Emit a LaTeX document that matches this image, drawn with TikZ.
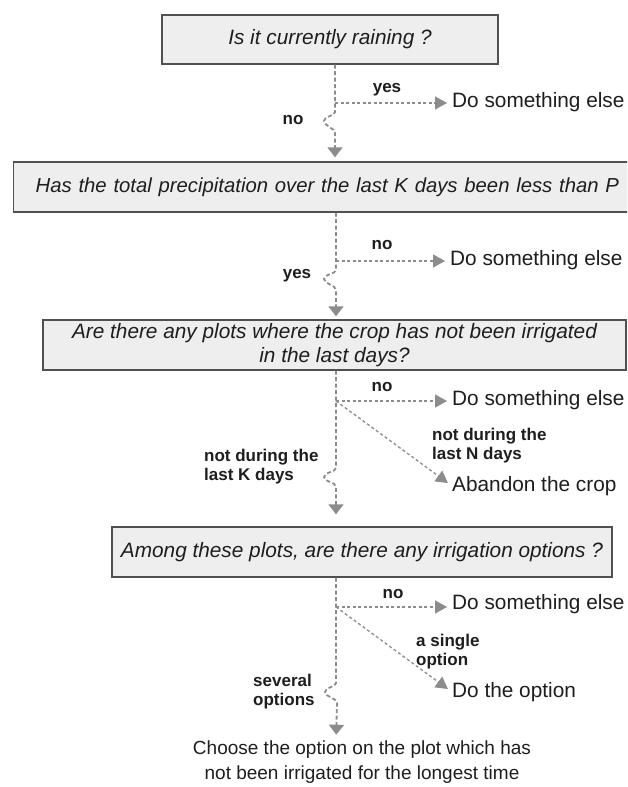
\documentclass[tikz,border=0pt]{standalone}
\usepackage{fontspec}
\setmainfont{Liberation Sans}
\usetikzlibrary{arrows.meta}
\definecolor{boxfill}{HTML}{EEEEEE}
\definecolor{boxline}{HTML}{505050}
\definecolor{connc}{HTML}{8C8C8C}
\definecolor{txt}{HTML}{1E1E1E}
\begin{document}
\begin{tikzpicture}[x=1pt,y=-1pt,
 qbox/.style={draw=boxline, fill=boxfill, line width=1.4pt, inner sep=0pt, text=txt,
   font=\fontsize{20.8}{24}\selectfont\itshape, align=center},
 act/.style={inner sep=0pt, text=txt, font=\fontsize{20.8}{24}\selectfont, anchor=west},
 lab/.style={inner sep=0pt, text=txt, font=\fontsize{17}{19}\selectfont\bfseries, align=left},
 vconn/.style={draw=connc, line width=1.8pt, dash pattern=on 4pt off 2.5pt,
   -{Triangle[length=10pt,width=15pt,fill=connc]}},
 hconn/.style={draw=connc, line width=1.3pt, dash pattern=on 3pt off 2.5pt,
   -{Triangle[length=12pt,width=13pt,fill=connc]}, shorten >=5pt},
]
\useasboundingbox (0,0) rectangle (627,787);
\fill[white] (0,0) rectangle (627,787);
\clip (0,0) rectangle (627,787);

% question boxes
\node[qbox, minimum width=336pt, minimum height=49pt] (b1) at (330,39.5) {Is it currently raining ?};
\node[qbox, anchor=west, minimum height=50pt, text width=640pt, align=left, inner xsep=22pt,
  font=\fontsize{20.3}{24}\selectfont\itshape] (b2) at (13,187)
  {Has the total precipitation over the last K days been less than P};
\node[qbox, minimum width=583pt, minimum height=50pt] (b3) at (334.5,345)
  {Are there any plots where the crop has not been irrigated\\in the last days?};
\node[qbox, minimum width=500pt, minimum height=50pt] (b4) at (362,552)
  {Among these plots, are there any irrigation options ?};
\node[inner sep=0pt, text=txt, font=\fontsize{19}{24.5}\selectfont, align=center] (fin) at (362,762)
  {Choose the option on the plot which has\\not been irrigated for the longest time};

% branch points
\coordinate (br1) at (335,103);
\coordinate (br2) at (336,261);
\coordinate (br3) at (336,401);
\coordinate (br4) at (336,607);

% outcomes
\node[act] (d1) at (452,102) {Do something else};
\node[act] (d2) at (450,260) {Do something else};
\node[act] (d3) at (452,400) {Do something else};
\node[act] (d4) at (452,604) {Do something else};
\node[act] (ab) at (452,486) {Abandon the crop};
\node[act] (dopt) at (452,692) {Do the option};

% labels
\node[lab] (l1y) at (387,90) {yes};
\node[lab] (l1n) at (293,120) {no};
\node[lab] (l2n) at (382,245) {no};
\node[lab] (l2y) at (297,276) {yes};
\node[lab] (l3n) at (382,387) {no};
\node[lab, anchor=west] (l3k) at (204,466.5) {not during the\\last K days};
\node[lab, anchor=west] (l3m) at (432,445.5) {not during the\\last N days};
\node[lab] (l4n) at (393,594) {no};
\node[lab, anchor=west] (l4s) at (416,652) {a single\\option};
\node[lab, anchor=west] (l4m) at (253,692) {several\\options};

% main connectors
\draw[vconn, shorten >=4pt] (b1.south -| br1) -- (br1) -- ++(0,9)
  .. controls +(0,4) and +(0,-5) .. ++(-11,9)
  .. controls +(0,5) and +(0,-5) .. ++(11,12) -- (b2.north -| br1);
\draw[vconn, shorten >=3pt] (b2.south -| br2) -- (br2) -- ++(0,9)
  .. controls +(0,4) and +(0,-5) .. ++(-12,9)
  .. controls +(0,5) and +(0,-5) .. ++(12,11) -- (b3.north -| br2);
\draw[vconn, shorten >=12pt] (b3.south -| br3) -- (br3) -- ++(0,67)
  .. controls +(0,4) and +(0,-5) .. ++(-12,9)
  .. controls +(0,5) and +(0,-5) .. ++(12,10) -- (b4.north -| br3);
\draw[vconn, shorten >=6pt] (b4.south -| br4) -- (br4) -- ++(0,76)
  .. controls +(0,4) and +(0,-5) .. ++(-11,9)
  .. controls +(0,5) and +(0,-5) .. ++(12,11) -- (fin.north -| br4);

% side connectors
\draw[hconn] (br1) -- (br1 -| d1.west);
\draw[hconn] (br2) -- (br2 -| d2.west);
\draw[hconn] (br3) -- (br3 -| d3.west);
\draw[hconn] (br4) -- (br4 -| d4.west);
\draw[hconn] (br3) -- (ab.west);
\draw[hconn] (br4) -- (dopt.west);
\end{tikzpicture}
\end{document}
